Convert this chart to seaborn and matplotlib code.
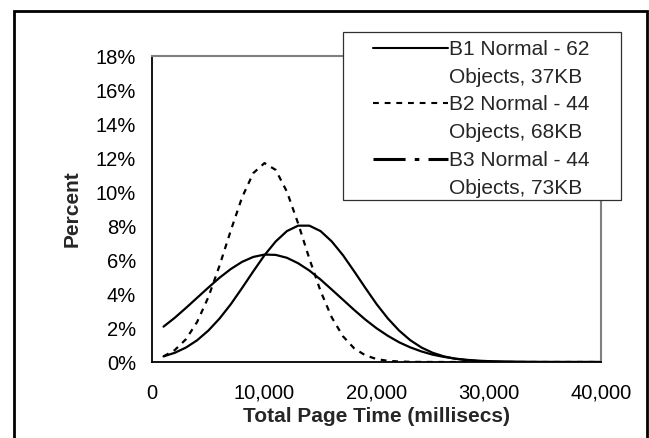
import matplotlib
matplotlib.use("Agg")
import matplotlib.pyplot as plt
from matplotlib.lines import Line2D
from matplotlib.patches import Rectangle
import seaborn as sns
import pandas as pd

# ---- data ----
time_ms = [1000, 2000, 3000, 4000, 5000, 6000, 7000, 8000, 9000, 10000,
           11000, 12000, 13000, 14000, 15000, 16000, 17000, 18000, 19000, 20000,
           21000, 22000, 23000, 24000, 25000, 26000, 27000, 28000, 29000, 30000,
           31000, 32000, 33000, 34000, 35000, 36000, 37000, 38000, 39000, 40000]
b1_pct = [0.33, 0.54, 0.85, 1.28, 1.85, 2.56, 3.40, 4.35, 5.33, 6.28,
          7.09, 7.70, 8.02, 8.02, 7.70, 7.09, 6.28, 5.33, 4.35, 3.40,
          2.56, 1.85, 1.28, 0.85, 0.54, 0.33, 0.19, 0.11, 0.06, 0.03,
          0.015, 0.007, 0.003, 0.001, 0, 0, 0, 0, 0, 0]
b2_pct = [0.33, 0.70, 1.34, 2.36, 3.82, 5.68, 7.74, 9.68, 11.11, 11.70,
          11.30, 10.02, 8.15, 6.08, 4.17, 2.62, 1.51, 0.80, 0.39, 0.17,
          0.07, 0.03, 0.01, 0.003, 0.001, 0, 0, 0, 0, 0,
          0, 0, 0, 0, 0, 0, 0, 0, 0, 0]
b3_pct = [2.08, 2.60, 3.18, 3.78, 4.38, 4.96, 5.47, 5.89, 6.18, 6.32,
          6.30, 6.13, 5.81, 5.38, 4.85, 4.26, 3.66, 3.06, 2.49, 1.98,
          1.54, 1.16, 0.86, 0.62, 0.43, 0.30, 0.20, 0.13, 0.08, 0.05,
          0.03, 0.02, 0.01, 0.005, 0.002, 0.001, 0, 0, 0, 0]
series_line1 = ["B1 Normal - 62", "B2 Normal - 44", "B3 Normal - 44"]
series_line2 = ["Objects, 37KB", "Objects, 68KB", "Objects, 73KB"]
x_ticks = [0, 10000, 20000, 30000, 40000]
x_tick_labels = ["0", "10,000", "20,000", "30,000", "40,000"]
y_ticks = [0, 2, 4, 6, 8, 10, 12, 14, 16, 18]
y_tick_labels = ["0%", "2%", "4%", "6%", "8%", "10%", "12%", "14%", "16%", "18%"]
x_label = "Total Page Time (millisecs)"
y_label = "Percent"

df = pd.DataFrame({"time": time_ms, "B1": b1_pct, "B2": b2_pct, "B3": b3_pct})

sns.set_style("white")
plt.rcParams['font.family'] = ['Liberation Sans', 'DejaVu Sans']

W, H = 649, 438
fig = plt.figure(figsize=(W / 100, H / 100), dpi=100)
fig.patch.set_facecolor("white")
ax = fig.add_axes([152.3 / W, 1 - 362 / H, (601 - 152.3) / W, (362 - 56) / H])

dot_style = (0, (2.6, 2.6))
dashdot_style = (0, (10.5, 3, 1.5, 3))

sns.lineplot(data=df, x="time", y="B1", ax=ax, color="black", linewidth=1.6, linestyle="-")
sns.lineplot(data=df, x="time", y="B2", ax=ax, color="black", linewidth=1.6, linestyle=dot_style)
sns.lineplot(data=df, x="time", y="B3", ax=ax, color="black", linewidth=1.6, linestyle="-")

ax.set_xlim(0, 40000)
ax.set_ylim(0, 18)
ax.set_xticks(x_ticks)
ax.set_xticklabels(x_tick_labels)
ax.set_yticks(y_ticks)
ax.set_yticklabels(y_tick_labels)
ax.tick_params(axis="both", direction="out", length=3.8, width=1.1, color="black",
               labelsize=14.5, labelcolor="black")
ax.tick_params(axis="x", pad=12)
ax.tick_params(axis="y", pad=8)
ax.set_xlabel(x_label, fontsize=15, fontweight="bold", labelpad=3)
ax.set_ylabel(y_label, fontsize=15, fontweight="bold", labelpad=10)
ax.grid(False)

for s in ["left", "bottom"]:
    ax.spines[s].set_color("black")
    ax.spines[s].set_linewidth(1.3)
for s in ["top", "right"]:
    ax.spines[s].set_color("#808080")
    ax.spines[s].set_linewidth(1.5)

# legend box
fig.add_artist(Rectangle((343 / W, 1 - 200 / H), (621 - 343) / W, (200 - 32) / H,
                         transform=fig.transFigure, facecolor="white",
                         edgecolor="#303030", linewidth=0.9, zorder=3))

h1 = Line2D([], [], color="black", linewidth=1.5, linestyle="-")
h2 = Line2D([], [], color="black", linewidth=1.5, linestyle=(0, (2.8, 2.8)))
h3 = Line2D([], [], color="black", linewidth=2.2, linestyle=dashdot_style)
blank = Line2D([], [], color="none", linewidth=0)
handles = [h1, blank, h2, blank, h3, blank]
labels = [series_line1[0], series_line2[0], series_line1[1], series_line2[1],
          series_line1[2], series_line2[2]]
leg = fig.legend(handles, labels, loc="upper left",
                 bbox_to_anchor=(373 / W, 1 - 40 / H),
                 frameon=False, fontsize=15, handlelength=3.6, handletextpad=0.05,
                 labelspacing=0.42, borderpad=0, borderaxespad=0)
leg.set_zorder(5)

# outer border
fig.add_artist(Rectangle((14 / W, -0.05), (647 - 14) / W, 1 - 11 / H + 0.05,
                         transform=fig.transFigure, facecolor="none",
                         edgecolor="black", linewidth=2.0, zorder=6))

fig.savefig("out.png", dpi=100)
